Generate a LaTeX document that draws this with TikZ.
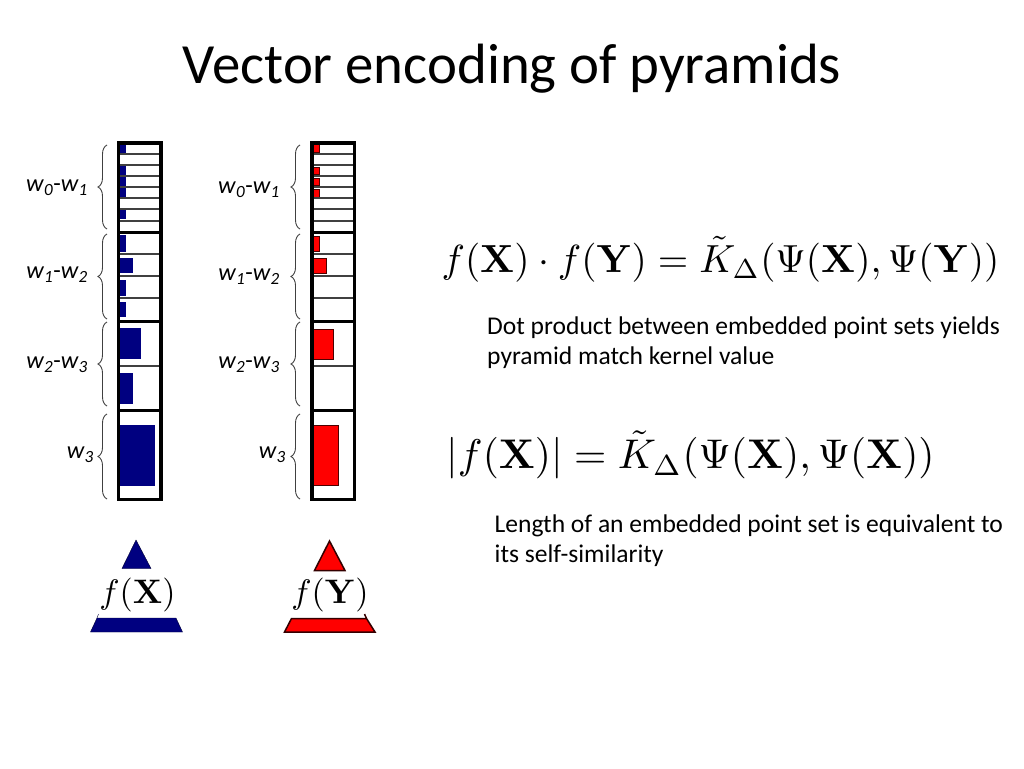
\documentclass[tikz,border=0pt]{standalone}
\usepackage{amsmath}
\usepackage{amssymb}
\usepackage{xcolor}
\usepackage[no-math]{fontspec}
\setmainfont{Carlito}
\usetikzlibrary{decorations.pathreplacing}
\definecolor{pyrblue}{RGB}{0,0,128}
\definecolor{pyrred}{RGB}{255,0,0}
\newcommand{\wlab}[1]{\textit{w}\textsubscript{\textit{#1}}}
\tikzset{
    heading/.style={font=\fontsize{56.8}{66}\selectfont, inner sep=0pt},
    bodytext/.style={font=\fontsize{25.55}{30}\selectfont, align=left, inner sep=0pt, anchor=west},
    levlabel/.style={font=\fontsize{24.4}{30}\selectfont, inner sep=0pt, anchor=east},
    eqn/.style={inner sep=0pt, scale=3.92},
    eqnwide/.style={inner sep=0pt, scale=4.15},
    eqnsmall/.style={inner sep=0pt, scale=3.4},
    framebox/.style={draw=black, line width=3.4pt},
    rowline/.style={draw=black!75, line width=1.3pt},
    levline/.style={draw=black, line width=3pt},
    bluebar/.style={fill=pyrblue},
    redbar/.style={fill=pyrred, draw=black!70!red, line width=0.8pt},
    levbrace/.style={draw=black!75, line width=0.9pt, decorate, decoration={brace, amplitude=9pt}},
}
\begin{document}
\begin{tikzpicture}[x=1pt, y=-1pt]
    \useasboundingbox (0,0) rectangle (1024,768);

    \node[heading] (title) at (512, 69){Vector encoding of pyramids};

    % blue column
    \fill[bluebar] (118, 143) rectangle (126, 153);
    \fill[bluebar] (118, 166) rectangle (126, 176);
    \fill[bluebar] (118, 177) rectangle (126, 187);
    \fill[bluebar] (118, 188) rectangle (126, 198);
    \fill[bluebar] (118, 210) rectangle (126, 219);
    \fill[bluebar] (118, 235) rectangle (126, 252);
    \fill[bluebar] (118, 258) rectangle (133, 273);
    \fill[bluebar] (118, 280) rectangle (126, 296);
    \fill[bluebar] (118, 302) rectangle (126, 317);
    \fill[bluebar] (118, 328) rectangle (141, 359);
    \fill[bluebar] (118, 373) rectangle (133, 404);
    \fill[bluebar] (118, 425) rectangle (155, 486);

    \draw[rowline] (118, 154) -- (161, 154);
    \draw[rowline] (118, 165) -- (161, 165);
    \draw[rowline] (118, 176) -- (161, 176);
    \draw[rowline] (118, 187) -- (161, 187);
    \draw[rowline] (118, 198) -- (161, 198);
    \draw[rowline] (118, 209) -- (161, 209);
    \draw[rowline] (118, 221) -- (161, 221);
    \draw[rowline] (118, 254) -- (161, 254);
    \draw[rowline] (118, 276) -- (161, 276);
    \draw[rowline] (118, 298) -- (161, 298);
    \draw[rowline] (118, 366) -- (161, 366);
    \draw[levline] (118, 232) -- (161, 232);
    \draw[levline] (118, 321) -- (161, 321);
    \draw[levline] (118, 410) -- (161, 410);
    \draw[framebox] (118.5, 143) rectangle (161, 499.5);

    % red column
    \draw[redbar] (312.5, 144.5) rectangle (319.5, 152.5);
    \draw[redbar] (312.5, 167) rectangle (319.5, 174.5);
    \draw[redbar] (312.5, 178) rectangle (319.5, 185.5);
    \draw[redbar] (312.5, 189) rectangle (319.5, 197);
    \draw[redbar] (312.5, 236) rectangle (319.5, 251);
    \draw[redbar] (312.5, 258) rectangle (326.5, 273.5);
    \draw[redbar] (312.5, 329) rectangle (333.5, 359);
    \draw[redbar] (312.5, 425.5) rectangle (338.5, 485);

    \draw[rowline] (312, 154) -- (354, 154);
    \draw[rowline] (312, 165) -- (354, 165);
    \draw[rowline] (312, 176) -- (354, 176);
    \draw[rowline] (312, 187) -- (354, 187);
    \draw[rowline] (312, 198) -- (354, 198);
    \draw[rowline] (312, 209) -- (354, 209);
    \draw[rowline] (312, 221) -- (354, 221);
    \draw[rowline] (312, 254) -- (354, 254);
    \draw[rowline] (312, 276) -- (354, 276);
    \draw[rowline] (312, 298) -- (354, 298);
    \draw[rowline] (312, 366) -- (354, 366);
    \draw[levline] (312, 232) -- (354, 232);
    \draw[levline] (312, 321) -- (354, 321);
    \draw[levline] (312, 410) -- (354, 410);
    \draw[framebox] (312, 143) rectangle (354.5, 499.5);

    % braces
    \draw[levbrace] (107, 229) -- (107, 145);
    \draw[levbrace] (107, 319) -- (107, 234);
    \draw[levbrace] (107, 406) -- (107, 322);
    \draw[levbrace] (107, 499) -- (107, 414);
    \draw[levbrace] (300, 229) -- (300, 145);
    \draw[levbrace] (300, 319) -- (300, 234);
    \draw[levbrace] (300, 406) -- (300, 322);
    \draw[levbrace] (300, 499) -- (300, 414);

    \node[levlabel] (BL1) at (88, 187.5){\wlab{0}-\wlab{1}};
    \node[levlabel] (BL2) at (88, 274.5){\wlab{1}-\wlab{2}};
    \node[levlabel] (BL3) at (88, 364.5){\wlab{2}-\wlab{3}};
    \node[levlabel] (BL4) at (94, 454.5){\wlab{3}};
    \node[levlabel] (RL1) at (280, 189.5){\wlab{0}-\wlab{1}};
    \node[levlabel] (RL2) at (280, 276.5){\wlab{1}-\wlab{2}};
    \node[levlabel] (RL3) at (280, 364.5){\wlab{2}-\wlab{3}};
    \node[levlabel] (RL4) at (286, 454.5){\wlab{3}};

    % pyramids
    \fill[bluebar, draw=black!60!pyrblue] (136, 540) -- (151, 568.5) -- (122, 568.5) -- cycle;
    \fill[bluebar, draw=black!60!pyrblue] (97, 618) -- (176, 618) -- (182.5, 632) -- (90.5, 632) -- cycle;
    \draw[black!60!pyrblue] (97, 618) -- (98.5, 614);
    \draw[redbar, line width=1.5pt, draw=black!80!red] (329.5, 541) -- (345, 570.5) -- (314.5, 570.5) -- cycle;
    \draw[redbar, line width=1.5pt, draw=black!80!red] (291.5, 618.5) -- (366.5, 618.5) -- (375, 632) -- (284.5, 632) -- cycle;
    \draw[line width=1.5pt, black!80!red] (366.5, 618.5) -- (364.5, 614);
    \node[eqnsmall] (FX) at (137.5, 595){$f(\mathbf{X})$};
    \node[eqnsmall] (FY) at (330, 595){$f(\mathbf{Y})$};

    % equations and text
    \node[eqn] (EQ1) at (720.5, 259){$f(\mathbf{X})\cdot f(\mathbf{Y})=\tilde{K}_{\Delta}(\Psi(\mathbf{X}),\Psi(\mathbf{Y}))$};
    \node[bodytext] (TXT1) at (487, 343){Dot product between embedded point sets yields\\pyramid match kernel value};
    \node[eqnwide] (EQ2) at (690.5, 455){$|f(\mathbf{X})|=\tilde{K}_{\Delta}(\Psi(\mathbf{X}),\Psi(\mathbf{X}))$};
    \node[bodytext] (TXT2) at (494.5, 541){Length of an embedded point set is equivalent to\\its self-similarity};
\end{tikzpicture}
\end{document}
